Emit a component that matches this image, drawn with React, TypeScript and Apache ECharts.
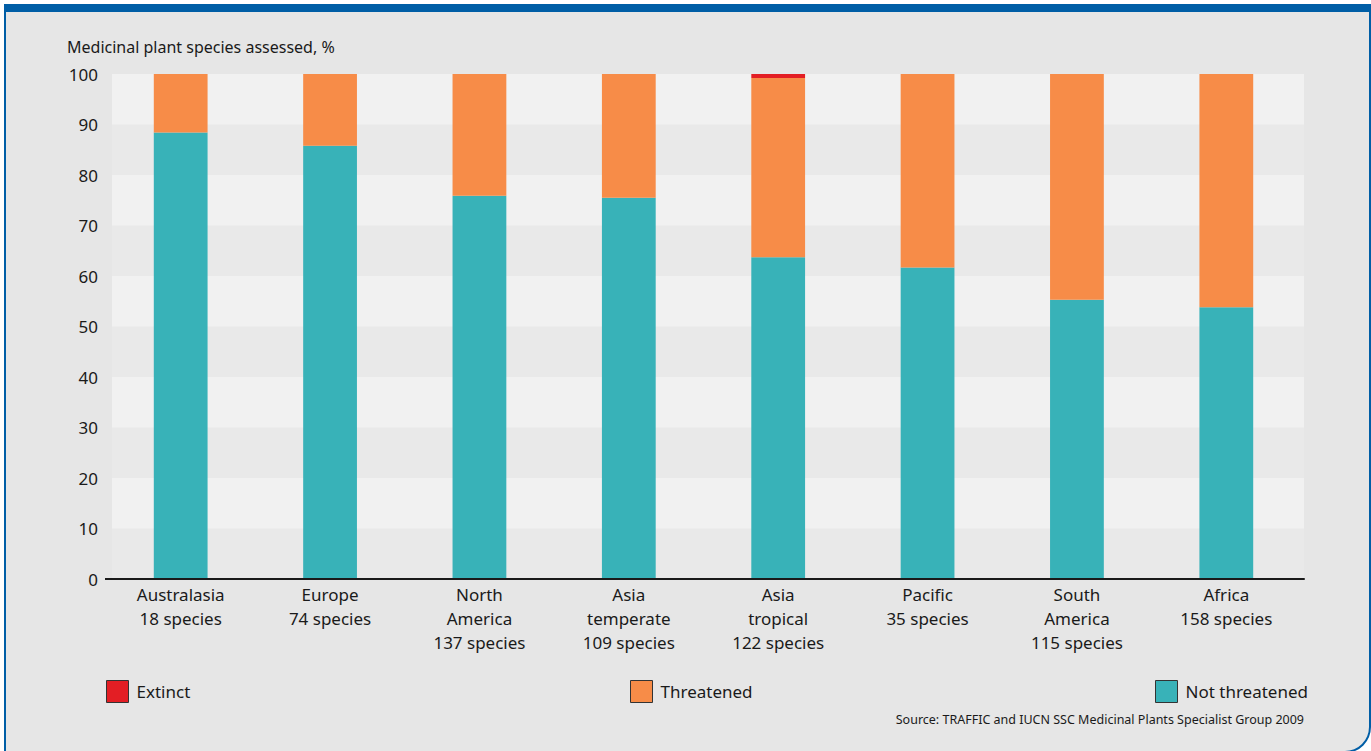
import React, { useEffect, useRef } from "react";
import * as echarts from "echarts";

const categories = [
  "Australasia\n18 species",
  "Europe\n74 species",
  "North\nAmerica\n137 species",
  "Asia\ntemperate\n109 species",
  "Asia\ntropical\n122 species",
  "Pacific\n35 species",
  "South\nAmerica\n115 species",
  "Africa\n158 species",
];
const notThreatened = [88.4, 85.8, 75.9, 75.5, 63.7, 61.7, 55.3, 53.8];
const extinct = [0, 0, 0, 0, 0.8, 0, 0, 0];
const threatened = notThreatened.map((v, i) => +(100 - v - extinct[i]).toFixed(1));
const yTicks = [0, 10, 20, 30, 40, 50, 60, 70, 80, 90, 100];

const FONT = "'Noto Sans', sans-serif";

export default function App() {
  const ref = useRef<HTMLDivElement>(null);
  useEffect(() => {
    if (!ref.current) return;
    const chart = echarts.init(ref.current, null, { renderer: "svg" });
    const legendCommon = {
      top: 680,
      padding: 0,
      itemWidth: 22,
      itemHeight: 22,
      itemGap: 8,
      icon: "rect",
      selectedMode: false,
      textStyle: { fontSize: 17, color: "#1a1a1a", fontFamily: FONT, padding: [0, 0, 0, 3] },
      itemStyle: { borderColor: "#333333", borderWidth: 1 },
    };
    chart.setOption({
      animation: false,
      backgroundColor: "transparent",
      textStyle: { fontFamily: FONT },
      grid: [
        { left: 112, right: 67, top: 74, bottom: 172, containLabel: false },
        { left: 106, right: 70, top: 74, bottom: 172, containLabel: false },
      ],
      legend: [
        { ...legendCommon, left: 106, data: ["Extinct"] },
        { ...legendCommon, left: 630, data: ["Threatened"] },
        { ...legendCommon, left: 1155, data: ["Not threatened"] },
      ],
      xAxis: [
        {
          type: "category",
          gridIndex: 0,
          data: categories,
          axisLine: { show: true, lineStyle: { color: "#1a1a1a", width: 2 } },
          axisTick: { show: false },
          axisLabel: { show: false },
          z: 5,
        },
        {
          type: "category",
          gridIndex: 1,
          data: categories,
          axisLine: { show: false },
          axisTick: { show: false },
          axisLabel: {
            fontSize: 17,
            lineHeight: 24,
            color: "#1a1a1a",
            margin: 3,
            fontFamily: FONT,
            interval: 0,
            verticalAlign: "top",
          },
        },
      ],
      yAxis: [
        {
          type: "value",
          gridIndex: 0,
          min: 0,
          max: 100,
          interval: 10,
          axisLine: { show: false },
          axisTick: { show: false },
          splitLine: { show: false },
          splitArea: { show: true, areaStyle: { color: ["#e9e9e9", "#f1f1f1"] } },
          axisLabel: {
            fontSize: 17,
            color: "#1a1a1a",
            margin: 14,
            fontFamily: FONT,
            formatter: (v: number) => (yTicks.includes(v) ? String(v) : ""),
          },
        },
        {
          type: "value",
          gridIndex: 1,
          min: 0,
          max: 100,
          interval: 10,
          axisLine: { show: false },
          axisTick: { show: false },
          splitLine: { show: false },
          splitArea: { show: false },
          axisLabel: { show: false },
        },
      ],
      series: [
        {
          name: "Not threatened",
          type: "bar",
          stack: "total",
          xAxisIndex: 1,
          yAxisIndex: 1,
          data: notThreatened,
          barWidth: "36%",
          itemStyle: { color: "#38b2b8" },
        },
        {
          name: "Threatened",
          type: "bar",
          stack: "total",
          xAxisIndex: 1,
          yAxisIndex: 1,
          data: threatened,
          barWidth: "36%",
          itemStyle: { color: "#f78c48" },
        },
        {
          name: "Extinct",
          type: "bar",
          stack: "total",
          xAxisIndex: 1,
          yAxisIndex: 1,
          data: extinct,
          barWidth: "36%",
          itemStyle: { color: "#e31e24" },
        },
      ],
      graphic: [
        {
          type: "text",
          left: 67,
          top: 39,
          style: {
            text: "Medicinal plant species assessed, %",
            fontSize: 16,
            fill: "#1a1a1a",
            fontFamily: FONT,
          },
        },
        {
          type: "line",
          shape: { x1: 105, y1: 579, x2: 113, y2: 579 },
          style: { stroke: "#1a1a1a", lineWidth: 2 },
        },
        {
          type: "text",
          right: 67,
          top: 713,
          style: {
            text: "Source: TRAFFIC and IUCN SSC Medicinal Plants Specialist Group 2009",
            fontSize: 12.5,
            fill: "#1a1a1a",
            fontFamily: FONT,
          },
        },
      ],
    });
    return () => chart.dispose();
  }, []);

  return (
    <div style={{ position: "fixed", left: 0, top: 0, width: 1371, height: 751, background: "#ffffff", overflow: "hidden" }}>
      <div
        style={{
          position: "absolute",
          boxSizing: "border-box",
          left: 4,
          top: 4,
          width: 1367,
          height: 749,
          background: "#e6e6e6",
          borderTop: "8px solid #005ea6",
          borderLeft: "2px solid #005ea6",
          borderRight: "2px solid #005ea6",
          borderBottom: "2px solid #005ea6",
          borderBottomRightRadius: 26,
        }}
      />
      <div ref={ref} style={{ position: "absolute", left: 0, top: 0, width: 1371, height: 751 }} />
    </div>
  );
}
